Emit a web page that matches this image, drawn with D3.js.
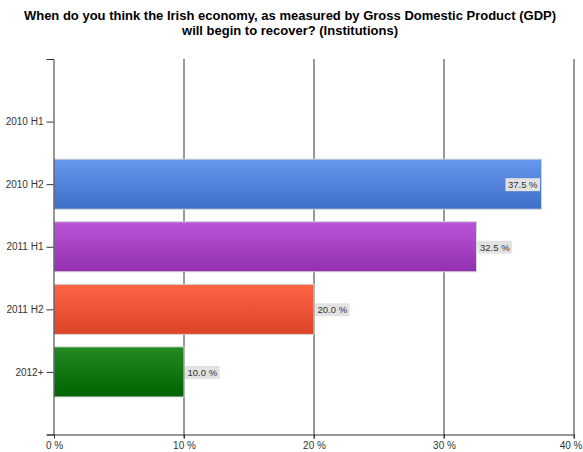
<!DOCTYPE html>
<html><head><meta charset="utf-8">
<script src="https://cdn.jsdelivr.net/npm/d3@7"></script>
<style>body{margin:0;background:#fff}svg{display:block}text{font-family:"Liberation Sans",Arial,sans-serif}</style>
</head><body><svg id="c" width="583" height="452"></svg>
<script>
const categories = ["2010 H1", "2010 H2", "2011 H1", "2011 H2", "2012+"];
const values = [0, 37.5, 32.5, 20.0, 10.0];
const xTicks = [0, 10, 20, 30, 40];
const titleLines = ["When do you think the Irish economy, as measured by Gross Domestic Product (GDP)", "will begin to recover? (Institutions)"];
const colors = [["#6797ee","#3e6ec8"],["#6797ee","#3e6ec8"],["#bb55d8","#9230ae"],["#fd6446","#dd4427"],["#238b23","#006400"]];

const svg = d3.select("#c");
const L = 54, R = 574, T = 59, B = 434.5;
const x = d3.scaleLinear().domain([0, 40]).range([L, R]);
const y = d3.scalePoint().domain(categories).range([T, B]).padding(1);
const bh = y.step() * 0.8;

const defs = svg.append("defs");
colors.forEach((c, i) => {
  const g = defs.append("linearGradient").attr("id", "g" + i).attr("x1", 0).attr("y1", 0).attr("x2", 0).attr("y2", 1);
  g.append("stop").attr("offset", "0%").attr("stop-color", c[0]);
  g.append("stop").attr("offset", "100%").attr("stop-color", c[1]);
});

svg.append("g").selectAll("text").data(titleLines).join("text")
  .attr("x", 290).attr("y", (d, i) => 20 + i * 15).attr("text-anchor", "middle")
  .style("font-size", "13px").style("font-weight", "bold").attr("fill", "#000").text(d => d);

// gridlines
svg.append("g").selectAll("line").data(xTicks.slice(1)).join("line")
  .attr("x1", d => x(d)).attr("x2", d => x(d)).attr("y1", T).attr("y2", B + 4)
  .attr("stroke", "#333").attr("stroke-width", 1);

// bars
const data = categories.map((c, i) => ({c, v: values[i], i}));
svg.append("g").selectAll("rect").data(data.filter(d => d.v > 0)).join("rect")
  .attr("x", L).attr("y", d => y(d.c) - bh / 2)
  .attr("width", d => x(d.v) - L).attr("height", bh)
  .attr("fill", d => `url(#g${d.i})`).attr("stroke", "#d4d4d4").attr("stroke-width", 1);

// labels
const lab = svg.append("g").selectAll("g").data(data.filter(d => d.v > 0)).join("g");
lab.each(function(d) {
  const g = d3.select(this);
  const t = g.append("text").style("font-size", "9.5px").attr("fill", "#333").text(d3.format(".1f")(d.v) + " %");
  const w = t.node().getComputedTextLength() + 5, h = 13;
  let bx = x(d.v) + 1;
  if (bx + w > R - 2) bx = x(d.v) - 1.5 - w;
  const by = y(d.c) - h / 2 + 0.5;
  g.insert("rect", "text").attr("x", bx).attr("y", by).attr("width", w).attr("height", h).attr("fill", "#e2e2e2");
  t.attr("x", bx + 2.5).attr("y", by + 10);
});

// y axis
const ya = svg.append("g").attr("transform", `translate(${L - 0.5},0)`)
  .call(d3.axisLeft(y).tickSize(7).tickSizeOuter(7).tickPadding(3));
ya.select(".domain").attr("stroke", "#333");
ya.selectAll(".tick line").attr("stroke", "#333");
ya.selectAll("text").style("font-size", "10px").attr("fill", "#333").style("font-family", "'Liberation Sans',Arial,sans-serif");

// x axis
const xa = svg.append("g").attr("transform", `translate(0,${B})`)
  .call(d3.axisBottom(x).tickValues(xTicks).tickFormat(d => d + " %").tickSize(4).tickSizeOuter(0).tickPadding(3));
xa.select(".domain").attr("d", `M${L - 7},0.5H${R}`).attr("stroke", "#333");
xa.selectAll(".tick line").attr("stroke", "#333");
xa.selectAll("text").style("font-size", "10px").attr("fill", "#333").style("font-family", "'Liberation Sans',Arial,sans-serif");
xa.selectAll(".tick").filter(d => d === 40).select("text").attr("text-anchor", "end").attr("x", 582 - R);
</script></body></html>
